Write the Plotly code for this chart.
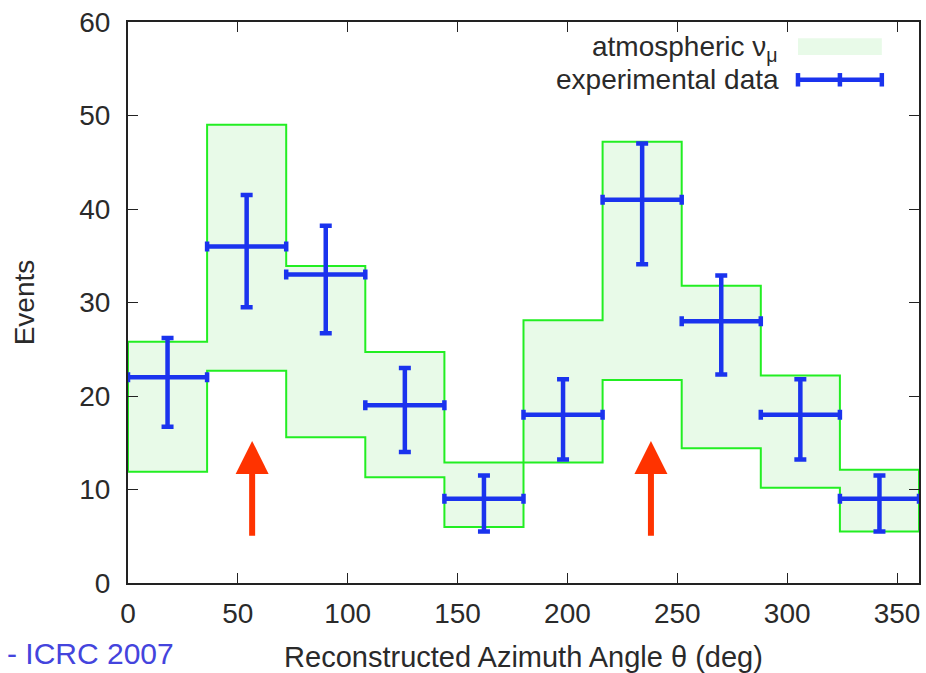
import plotly.graph_objects as go

# ---- data ----
bin_edges = [0, 36, 72, 108, 144, 180, 216, 252, 288, 324, 360]
band_upper = [25.8, 49.0, 33.9, 24.7, 12.9, 28.1, 47.2, 31.8, 22.2, 12.1]
band_lower = [11.9, 22.7, 15.6, 11.3, 6.0, 12.9, 21.7, 14.4, 10.2, 5.5]
data_x = [18, 54, 90, 126, 162, 198, 234, 270, 306, 342]
data_y = [22, 36, 33, 19, 9, 18, 41, 28, 18, 9]
err_lo = [16.7, 29.5, 26.7, 14.0, 5.5, 13.2, 34.1, 22.3, 13.2, 5.5]
err_hi = [26.2, 41.5, 38.2, 23.0, 11.5, 21.8, 47.0, 32.9, 21.8, 11.5]
arrow_x = [56.5, 238]
arrow_tail, arrow_head = 4.9, 15.2
x_ticks = [0, 50, 100, 150, 200, 250, 300, 350]
y_ticks = [0, 10, 20, 30, 40, 50, 60]

GREEN = "#22ee22"
FILL = "#e8fae8"
BLUE = "#1a33ee"
RED = "#ff3300"
FONT = "Liberation Sans"
TXT = "#2a2a2a"

# closed step polygon for the band
px, py = [], []
for i in range(len(band_upper)):
    px += [bin_edges[i], bin_edges[i + 1]]
    py += [band_upper[i], band_upper[i]]
for i in reversed(range(len(band_lower))):
    px += [bin_edges[i + 1], bin_edges[i]]
    py += [band_lower[i], band_lower[i]]
px.append(px[0]); py.append(py[0])

fig = go.Figure()
fig.add_trace(go.Scatter(x=px, y=py, mode="lines", fill="toself",
                         fillcolor=FILL, line=dict(color=GREEN, width=2),
                         showlegend=False, hoverinfo="skip"))

half = [(bin_edges[i + 1] - bin_edges[i]) / 2 for i in range(len(data_x))]
fig.add_trace(go.Scatter(
    x=data_x, y=data_y, mode="markers", marker=dict(size=1, color=BLUE),
    error_y=dict(type="data", symmetric=False,
                 array=[h - y for h, y in zip(err_hi, data_y)],
                 arrayminus=[y - l for l, y in zip(err_lo, data_y)],
                 color=BLUE, thickness=4.5, width=6),
    error_x=dict(type="data", array=half, color=BLUE, thickness=4.5, width=5),
    showlegend=False))

annotations = []
for ax_ in arrow_x:
    annotations.append(dict(x=ax_, y=arrow_head, ax=ax_, ay=arrow_tail,
                            xref="x", yref="y", axref="x", ayref="y",
                            text="", showarrow=True, arrowhead=2,
                            arrowsize=1.1, arrowwidth=6, arrowcolor=RED,
                            standoff=0))

# legend (manual)
annotations += [
    dict(x=0.824, y=0.952, xref="paper", yref="paper", xanchor="right",
         yanchor="middle", showarrow=False,
         text="atmospheric ν<sub>μ</sub>",
         font=dict(family=FONT, size=28, color=TXT)),
    dict(x=0.826, y=0.897, xref="paper", yref="paper", xanchor="right",
         yanchor="middle", showarrow=False, text="experimental data",
         font=dict(family=FONT, size=28, color=TXT)),
    dict(x=-0.155, y=-0.158, xref="paper", yref="paper", xanchor="left",
         yanchor="bottom", showarrow=False, text="- ICRC 2007",
         font=dict(family=FONT, size=30, color="#4444dd")),
]
shapes = [
    dict(type="rect", xref="paper", yref="paper", x0=0.847, x1=0.953,
         y0=0.941, y1=0.971, fillcolor=FILL, line=dict(width=0)),
    dict(type="line", xref="paper", yref="paper", x0=0.847, x1=0.953,
         y0=0.897, y1=0.897, line=dict(color=BLUE, width=4.5)),
]
for xc in (0.847, 0.90, 0.953):
    shapes.append(dict(type="line", xref="paper", yref="paper", x0=xc, x1=xc,
                       y0=0.885, y1=0.909, line=dict(color=BLUE, width=4.5)))

fig.update_layout(
    width=926, height=673, margin=dict(l=128, r=7, t=22, b=90),
    paper_bgcolor="white", plot_bgcolor="white",
    font=dict(family=FONT, size=28, color=TXT),
    annotations=annotations, shapes=shapes,
    xaxis=dict(range=[0, 360], tickvals=x_ticks, ticks="inside", ticklen=10,
               tickcolor="#222", mirror="allticks", showline=True,
               linecolor="#222", linewidth=2, showgrid=False, zeroline=False,
               tickfont=dict(size=28), automargin=False, ticklabelstandoff=4,
               title=dict(text="Reconstructed Azimuth Angle θ (deg)",
                          font=dict(size=29), standoff=22)),
    yaxis=dict(range=[0, 60], tickvals=y_ticks, ticks="inside", ticklen=10,
               tickcolor="#222", mirror="allticks", showline=True,
               linecolor="#222", linewidth=2, showgrid=False, zeroline=False,
               tickfont=dict(size=28), automargin=False, ticklabelstandoff=10,
               title=dict(text="Events", font=dict(size=28), standoff=36)),
)

fig.write_html("out.html")
